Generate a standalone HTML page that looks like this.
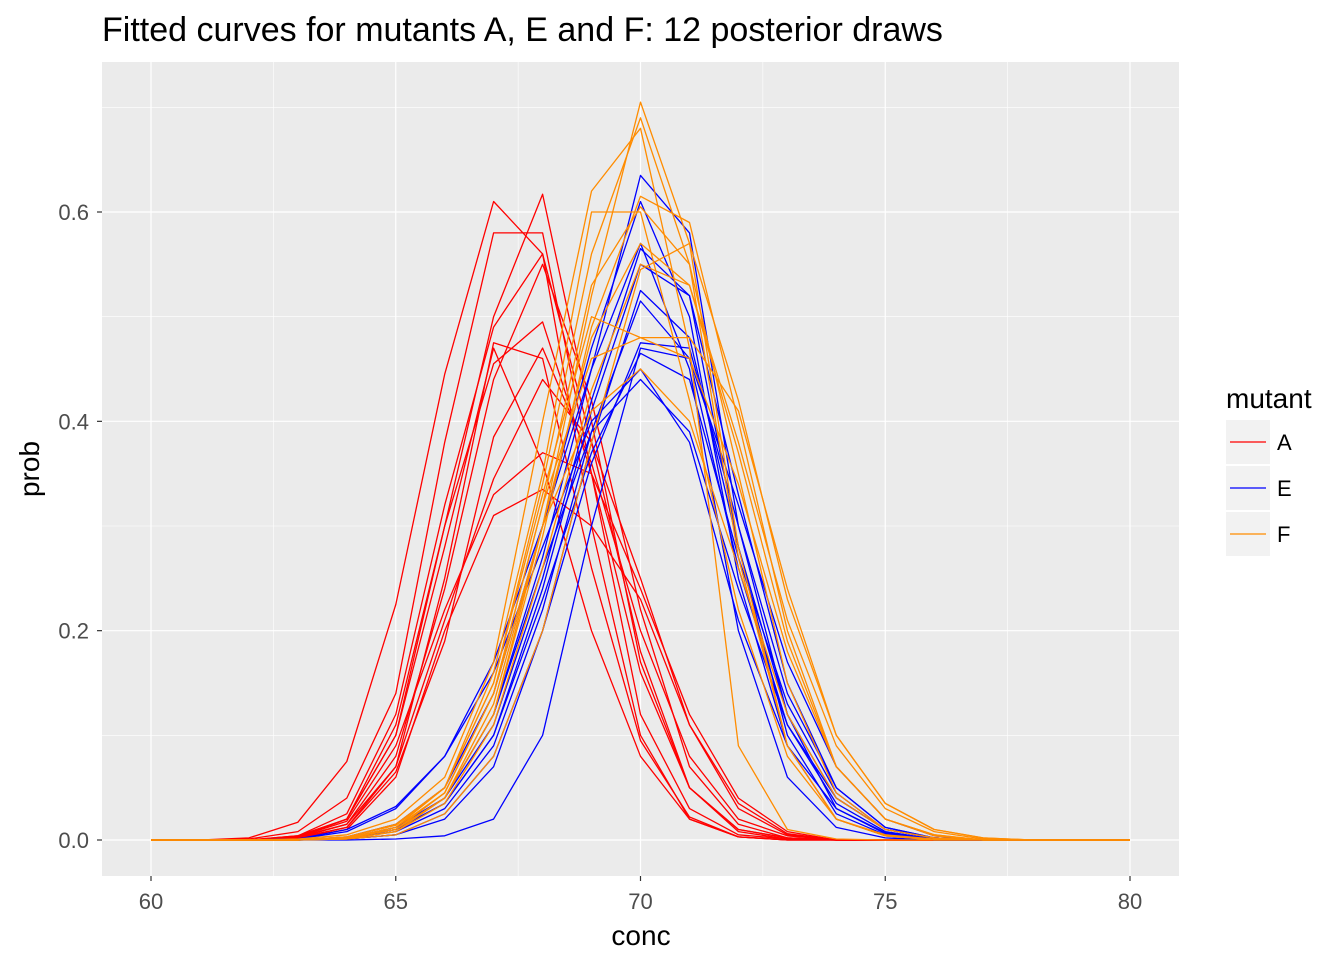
<!DOCTYPE html>
<html><head><meta charset="utf-8"><style>
body{margin:0;background:#fff;width:1344px;height:960px;overflow:hidden}
text{font-family:"Liberation Sans",Arial,sans-serif}
</style></head><body>
<svg id="chart" width="1344" height="960" xmlns="http://www.w3.org/2000/svg">
<text x="102" y="41" font-size="34" fill="#000">Fitted curves for mutants A, E and F: 12 posterior draws</text>
<rect x="102" y="62" width="1077" height="814" fill="#EBEBEB"/>
<g id="grid"></g><g id="series"></g><g id="axes"></g>
<text x="641" y="945" font-size="28" text-anchor="middle">conc</text>
<text transform="translate(39,469) rotate(-90)" font-size="28" text-anchor="middle">prob</text>
<g id="legend">
<text x="1226" y="408" font-size="28">mutant</text>
</g>
</svg>
<script>
const conc=[60,61,62,63,64,65,66,67,68,69,70,71,72,73,74,75,76,77,78,79,80];
const xTicks=[60,65,70,75,80];
const yTicks=[0,0.2,0.4,0.6];
const yTickLabels=["0.0","0.2","0.4","0.6"];
const mutants=["A","E","F"];
const colors={A:"#FF0000",E:"#0000FF",F:"#FF8C00"};
const seriesA=[
[0,0,0.002,0.017,0.075,0.225,0.445,0.61,0.56,0.3,0.1,0.02,0.003,0,0,0,0,0,0,0,0],
[0,0,0.001,0.008,0.04,0.14,0.38,0.58,0.58,0.35,0.12,0.03,0.005,0.001,0,0,0,0,0,0,0],
[0,0,0,0.004,0.02,0.1,0.3,0.5,0.617,0.4,0.17,0.05,0.008,0.001,0,0,0,0,0,0,0],
[0,0,0,0.003,0.015,0.07,0.25,0.475,0.46,0.26,0.095,0.022,0.003,0,0,0,0,0,0,0,0],
[0,0,0,0.003,0.02,0.11,0.3,0.455,0.495,0.35,0.16,0.05,0.01,0.002,0,0,0,0,0,0,0],
[0,0,0,0.002,0.012,0.065,0.19,0.385,0.47,0.36,0.2,0.08,0.02,0.004,0,0,0,0,0,0,0],
[0,0,0,0.002,0.01,0.06,0.2,0.31,0.335,0.3,0.23,0.11,0.035,0.006,0,0,0,0,0,0,0],
[0,0,0,0.002,0.012,0.07,0.21,0.345,0.44,0.38,0.25,0.11,0.03,0.005,0,0,0,0,0,0,0],
[0,0,0,0.003,0.018,0.09,0.22,0.33,0.37,0.35,0.24,0.12,0.04,0.008,0,0,0,0,0,0,0],
[0,0,0,0.004,0.025,0.12,0.32,0.49,0.56,0.38,0.18,0.05,0.01,0.002,0,0,0,0,0,0,0],
[0,0,0,0.002,0.015,0.08,0.24,0.44,0.55,0.42,0.22,0.07,0.015,0.002,0,0,0,0,0,0,0],
[0,0,0,0.003,0.02,0.1,0.28,0.47,0.36,0.2,0.08,0.02,0.003,0,0,0,0,0,0,0,0]];
const seriesE=[
[0,0,0,0,0.002,0.01,0.04,0.12,0.27,0.45,0.635,0.58,0.3,0.12,0.03,0.006,0.001,0,0,0,0],
[0,0,0,0,0.003,0.015,0.05,0.14,0.3,0.47,0.61,0.5,0.25,0.09,0.02,0.004,0,0,0,0,0],
[0,0,0,0.001,0.008,0.03,0.08,0.17,0.3,0.45,0.57,0.45,0.2,0.06,0.012,0.002,0,0,0,0,0],
[0,0,0,0,0.002,0.01,0.04,0.11,0.25,0.42,0.565,0.52,0.28,0.1,0.025,0.005,0,0,0,0,0],
[0,0,0,0,0.001,0.005,0.02,0.07,0.2,0.38,0.525,0.48,0.28,0.12,0.04,0.01,0.002,0,0,0,0],
[0,0,0,0,0.002,0.008,0.03,0.09,0.22,0.39,0.515,0.46,0.26,0.11,0.035,0.008,0.001,0,0,0,0],
[0,0,0,0,0.001,0.005,0.025,0.08,0.2,0.36,0.475,0.47,0.3,0.14,0.05,0.012,0.002,0,0,0,0],
[0,0,0,0,0.002,0.01,0.035,0.1,0.23,0.37,0.465,0.44,0.27,0.13,0.045,0.01,0.002,0,0,0,0],
[0,0,0,0.001,0.01,0.032,0.08,0.16,0.28,0.4,0.45,0.38,0.21,0.09,0.03,0.007,0.001,0,0,0,0],
[0,0,0,0,0.002,0.012,0.04,0.12,0.26,0.39,0.44,0.39,0.24,0.11,0.04,0.01,0.002,0,0,0,0],
[0,0,0,0,0,0.001,0.004,0.02,0.1,0.3,0.47,0.46,0.32,0.17,0.07,0.02,0.004,0,0,0,0],
[0,0,0,0,0.002,0.01,0.035,0.1,0.24,0.41,0.55,0.52,0.33,0.15,0.05,0.012,0.002,0,0,0,0]];
const seriesF=[
[0,0,0,0,0.002,0.01,0.04,0.12,0.3,0.52,0.705,0.57,0.28,0.09,0.02,0.004,0,0,0,0,0],
[0,0,0,0,0.003,0.014,0.05,0.15,0.34,0.56,0.69,0.55,0.27,0.09,0.02,0.004,0,0,0,0,0],
[0,0,0,0.001,0.005,0.02,0.06,0.17,0.4,0.62,0.68,0.47,0.09,0.01,0.001,0,0,0,0,0,0],
[0,0,0,0,0.002,0.01,0.04,0.12,0.29,0.49,0.615,0.59,0.4,0.2,0.07,0.02,0.005,0,0,0,0],
[0,0,0,0,0.002,0.01,0.045,0.14,0.32,0.53,0.605,0.55,0.35,0.15,0.045,0.01,0.002,0,0,0,0],
[0,0,0,0,0.001,0.008,0.04,0.13,0.3,0.48,0.57,0.53,0.37,0.19,0.07,0.02,0.004,0,0,0,0],
[0,0,0,0,0.001,0.008,0.035,0.11,0.26,0.43,0.55,0.53,0.38,0.21,0.09,0.03,0.008,0.001,0,0,0],
[0,0,0,0,0.001,0.005,0.025,0.08,0.2,0.38,0.545,0.57,0.42,0.23,0.1,0.035,0.01,0.002,0,0,0],
[0,0,0,0,0.002,0.012,0.05,0.15,0.33,0.5,0.48,0.48,0.41,0.24,0.1,0.035,0.01,0.002,0,0,0],
[0,0,0,0,0.002,0.01,0.045,0.14,0.32,0.46,0.48,0.46,0.34,0.18,0.07,0.02,0.005,0,0,0,0],
[0,0,0,0,0.003,0.015,0.05,0.16,0.35,0.6,0.6,0.42,0.22,0.08,0.02,0.005,0.001,0,0,0,0],
[0,0,0,0,0.002,0.012,0.045,0.14,0.3,0.41,0.45,0.4,0.26,0.12,0.04,0.01,0.002,0,0,0,0]];
const seriesData={A:seriesA,E:seriesE,F:seriesF};
const NS="http://www.w3.org/2000/svg";
const X0=102,X1=1179,Y0=62,Y1=876;
const xs=v=>151+(v-60)*(1130-151)/20;
const ys=v=>840-v*(840-212)/0.6;
function mk(tag,attrs,parent){const e=document.createElementNS(NS,tag);for(const k in attrs)e.setAttribute(k,attrs[k]);parent.appendChild(e);return e;}
const grid=document.getElementById('grid');
for(let i=0;i<xTicks.length-1;i++){const m=(xTicks[i]+xTicks[i+1])/2;
 const l=mk('line',{x1:xs(m),x2:xs(m),y1:Y0,y2:Y1,stroke:'#fff','stroke-width':0.6},grid);
 }
for(let i=0;i<yTicks.length;i++){const m=yTicks[i]+0.1;
 const l=mk('line',{x1:X0,x2:X1,y1:ys(m),y2:ys(m),stroke:'#fff','stroke-width':0.6},grid);
 }
xTicks.forEach(t=>{const l=mk('line',{x1:xs(t),x2:xs(t),y1:Y0,y2:Y1,stroke:'#fff','stroke-width':1.2},grid);
 });
yTicks.forEach(t=>{const l=mk('line',{x1:X0,x2:X1,y1:ys(t),y2:ys(t),stroke:'#fff','stroke-width':1.2},grid);
 });
const axes=document.getElementById('axes');
xTicks.forEach(t=>{const l=mk('line',{x1:xs(t),x2:xs(t),y1:Y1,y2:Y1+5,stroke:'#333','stroke-width':1.2},axes);
 
 const tx=mk('text',{x:xs(t),y:909,'font-size':22,fill:'#4D4D4D','text-anchor':'middle'},axes);tx.textContent=t;
 });
yTicks.forEach((t,i)=>{const l=mk('line',{x1:X0-5,x2:X0,y1:ys(t),y2:ys(t),stroke:'#333','stroke-width':1.2},axes);
 
 const tx=mk('text',{x:89,y:ys(t)+8,'font-size':22,fill:'#4D4D4D','text-anchor':'end'},axes);tx.textContent=yTickLabels[i];
 });
const sg=document.getElementById('series');
mutants.forEach(m=>{seriesData[m].forEach((arr,j)=>{
 const d=arr.map((v,i)=>(i?'L':'M')+xs(conc[i]).toFixed(1)+','+ys(v).toFixed(1)).join('');
 const p=mk('path',{d:d,fill:'none',stroke:colors[m],'stroke-width':1.3,'stroke-linejoin':'round'},sg);
 
 });});
const lg=document.getElementById('legend');
mutants.forEach((m,i)=>{const y=420+i*46;
 const g=mk('g',{},lg);
 
 
 mk('rect',{x:1226,y:y,width:44,height:44,fill:'#F2F2F2'},g);
 mk('line',{x1:1230,x2:1266,y1:y+22,y2:y+22,stroke:colors[m],'stroke-width':1.3},g);
 const t=mk('text',{x:1277,y:y+30,'font-size':22,fill:'#000'},g);t.textContent=m;});
</script>
</body></html>
